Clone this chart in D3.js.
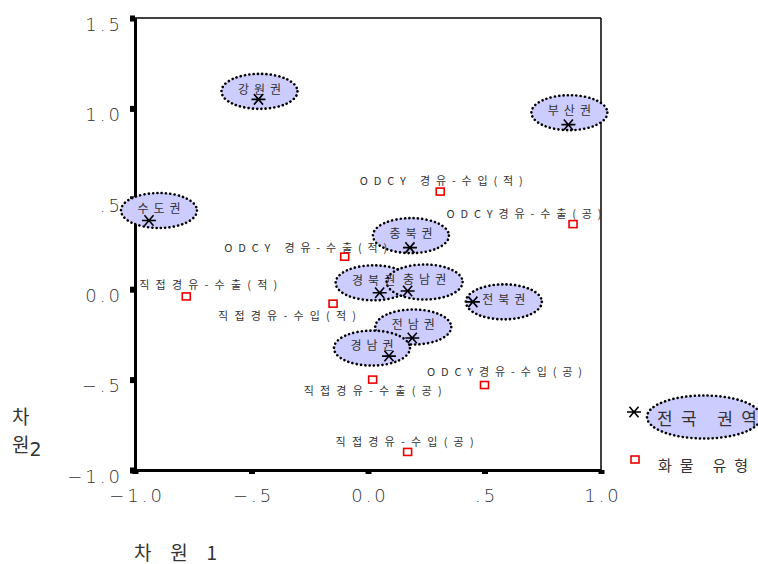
<!DOCTYPE html>
<html>
<head>
<meta charset="utf-8">
<script src="https://cdn.jsdelivr.net/npm/d3@7"></script>
<style>
  html, body { margin: 0; padding: 0; background: #fff; }
  svg text { font-family: "Noto Sans CJK KR", "DejaVu Sans", sans-serif; fill: #333; }
</style>
</head>
<body>
<svg id="chart" width="758" height="564"></svg>
<script>
// Region (권역) coordinates on the two dimensions
const regionNames = ["강원권", "부산권", "수도권", "충북권", "경북권", "충남권", "전북권", "전남권", "경남권"];
const regionDim1  = [-0.47, 0.86, -0.94, 0.18, 0.05, 0.17, 0.45, 0.19, 0.09];
const regionDim2  = [1.05, 0.91, 0.38, 0.23, -0.02, -0.01, -0.07, -0.27, -0.37];

// Cargo type (화물 유형) coordinates
const cargoNames = ["ODCY 경유-수입(적)", "ODCY경유-수출(공)", "ODCY 경유-수출(적)", "직접경유-수출(적)",
                    "직접경유-수입(적)", "직접경유-수출(공)", "ODCY경유-수입(공)", "직접경유-수입(공)"];
const cargoDim1  = [0.31, 0.88, -0.10, -0.78, -0.15, 0.02, 0.50, 0.17];
const cargoDim2  = [0.54, 0.36, 0.18, -0.04, -0.08, -0.50, -0.53, -0.90];

// Axis ticks
const xTicks = [-1.0, -0.5, 0.0, 0.5, 1.0];
const xTickLabels = ["-1.0", "-.5", "0.0", ".5", "1.0"];
const yTicks = [1.5, 1.0, 0.5, 0.0, -0.5, -1.0];
const yTickLabels = ["1.5", "1.0", ".5", "0.0", "-.5", "-1.0"];

// Label placement (pixel offsets of the label centre from its point)
const regionLabelOffsets = [[1, -10], [1, -14], [10, -12], [1, -14], [-6, -12], [17, -11], [31, -2], [1, -13], [-17, -10]];
const cargoLabelOffsets  = [[1, -10], [-49, -10], [-39, -9], [22, -11], [-46, 12], [0, 12], [20, -13], [-3, -10]];

const svg = d3.select("#chart");
const plot = { left: 135, right: 601, top: 18, bottom: 470 };

const x = d3.scaleLinear().domain([-1, 1]).range([plot.left, plot.right]);
const y = d3.scaleLinear().domain([-1, 1.5]).range([plot.bottom, plot.top]);

// spaced-out label width: wide pitch for Hangul and dashes, narrower for latin, brackets and blanks
function spacedWidth(s) {
  let w = 0;
  for (const ch of s) {
    if (/[\uAC00-\uD7A3]/.test(ch) || ch === "-") w += 15.5;
    else if (ch === "(" || ch === ")") w += 7;
    else if (ch === " ") w += 8;
    else w += 12;
  }
  return w;
}

// frame: heavy left/bottom axes, lighter top/right
svg.append("line").attr("x1", plot.left).attr("x2", plot.right).attr("y1", plot.top).attr("y2", plot.top)
  .attr("stroke", "#000").attr("stroke-width", 1.5);
svg.append("line").attr("x1", plot.right).attr("x2", plot.right).attr("y1", plot.top).attr("y2", plot.bottom)
  .attr("stroke", "#000").attr("stroke-width", 1.5);

const xAxis = d3.axisBottom(x).tickValues(xTicks).tickSize(0).tickFormat((d, i) => xTickLabels[i].replace("-", "\u2212"));
const yAxis = d3.axisLeft(y).tickValues(yTicks).tickSize(0).tickFormat((d, i) => yTickLabels[i].replace("-", "\u2212"));

const gx = svg.append("g").attr("transform", `translate(0,${plot.bottom})`).call(xAxis);
const gy = svg.append("g").attr("transform", `translate(${plot.left},0)`).call(yAxis);
[gx, gy].forEach(g => {
  g.select(".domain").attr("stroke", "#000").attr("stroke-width", 3);
  g.selectAll("text").attr("fill", "#333").style("font-size", "18px").style("letter-spacing", "3px")
    .style("font-weight", "300").style("font-family", "\"DejaVu Sans\", sans-serif");
});
gx.selectAll("text").attr("y", 0).attr("dy", "0").attr("transform", "translate(1.5,32)");
gy.selectAll("text").attr("x", -12).attr("dy", "0.35em").attr("transform", "translate(0,6)");
// small square tick marks
gx.selectAll(".tick").append("rect").attr("x", -3).attr("y", 0).attr("width", 6).attr("height", 4).attr("fill", "#000");
gy.selectAll(".tick").append("rect").attr("x", -5).attr("y", -3).attr("width", 5).attr("height", 6).attr("fill", "#000");

// star marker path (x-cross plus horizontal bar)
function starPath(cx, cy, s) {
  const w = s, h = s * 0.75;
  return `M${cx - w},${cy}H${cx + w}M${cx - w * 0.65},${cy - h}L${cx + w * 0.65},${cy + h}M${cx - w * 0.65},${cy + h}L${cx + w * 0.65},${cy - h}`;
}

const ellipseFill = "#ccccff";

// region ellipses with labels
const regions = regionNames.map((n, i) => ({ name: n, d1: regionDim1[i], d2: regionDim2[i], off: regionLabelOffsets[i] }));
const rg = svg.append("g");
regions.forEach(r => {
  const lx = x(r.d1) + r.off[0], ly = y(r.d2) + r.off[1];
  rg.append("ellipse").attr("cx", lx).attr("cy", ly + 2).attr("rx", 38).attr("ry", 17.5)
    .attr("fill", ellipseFill).attr("stroke", "#000").attr("stroke-width", 2.6)
    .attr("stroke-dasharray", "0.1 4.2").attr("stroke-linecap", "round");
});
regions.forEach(r => {
  const lx = x(r.d1) + r.off[0], ly = y(r.d2) + r.off[1];
  rg.append("text").attr("x", lx + 2.5).attr("y", ly).attr("text-anchor", "middle").attr("dy", "0.35em")
    .style("font-size", "12px").style("letter-spacing", "5px").attr("fill", "#444").text(r.name);
});
regions.forEach(r => {
  rg.append("path").attr("d", starPath(x(r.d1), y(r.d2), 7)).attr("stroke", "#000").attr("stroke-width", 1.6).attr("fill", "none");
});

// cargo type squares with labels
const cargo = cargoNames.map((n, i) => ({ name: n, d1: cargoDim1[i], d2: cargoDim2[i], off: cargoLabelOffsets[i] }));
const cg = svg.append("g");
cargo.forEach(c => {
  const px = x(c.d1), py = y(c.d2);
  cg.append("text").attr("x", px + c.off[0]).attr("y", py + c.off[1]).attr("text-anchor", "middle").attr("dy", "0.35em")
    .attr("textLength", spacedWidth(c.name)).attr("lengthAdjust", "spacing")
    .style("font-size", "11px").attr("fill", "#444").text(c.name);
  cg.append("rect").attr("x", px - 4).attr("y", py - 3.5).attr("width", 8).attr("height", 7)
    .attr("fill", "#fff").attr("stroke", "#e00").attr("stroke-width", 1.6);
});

// legend
const lg = svg.append("g");
lg.append("path").attr("d", starPath(634, 412, 7)).attr("stroke", "#000").attr("stroke-width", 1.6).attr("fill", "none");
lg.append("ellipse").attr("cx", 704).attr("cy", 417).attr("rx", 57).attr("ry", 21.5)
  .attr("fill", ellipseFill).attr("stroke", "#000").attr("stroke-width", 2.6)
  .attr("stroke-dasharray", "0.1 4.2").attr("stroke-linecap", "round");
lg.append("text").attr("x", 657).attr("y", 419).attr("dy", "0.35em")
  .attr("textLength", 100).attr("lengthAdjust", "spacing")
  .style("font-size", "17px").attr("fill", "#333").text("전국 권역");
lg.append("rect").attr("x", 631).attr("y", 456).attr("width", 8).attr("height", 7)
  .attr("fill", "#fff").attr("stroke", "#e00").attr("stroke-width", 1.6);
lg.append("text").attr("x", 658).attr("y", 466).attr("dy", "0.35em")
  .attr("textLength", 90).attr("lengthAdjust", "spacing")
  .style("font-size", "15px").attr("fill", "#333").text("화물 유형");

// axis titles
svg.append("text").attr("x", 134).attr("y", 553).attr("dy", "0.35em")
  .attr("textLength", 83).attr("lengthAdjust", "spacing")
  .style("font-size", "19px").attr("fill", "#333").text("차 원 1");
// vertical title wraps onto two lines: "차" / "원2"
const yTitle = svg.append("text").attr("x", 12).attr("y", 417).style("font-size", "19px").attr("fill", "#333");
yTitle.append("tspan").attr("x", 12).attr("dy", "0.35em").text("차");
yTitle.append("tspan").attr("x", 12).attr("dy", 28).text("원");
yTitle.append("tspan").attr("dy", 4).style("font-family", "\"DejaVu Sans\", sans-serif").text("2");
</script>
</body>
</html>
